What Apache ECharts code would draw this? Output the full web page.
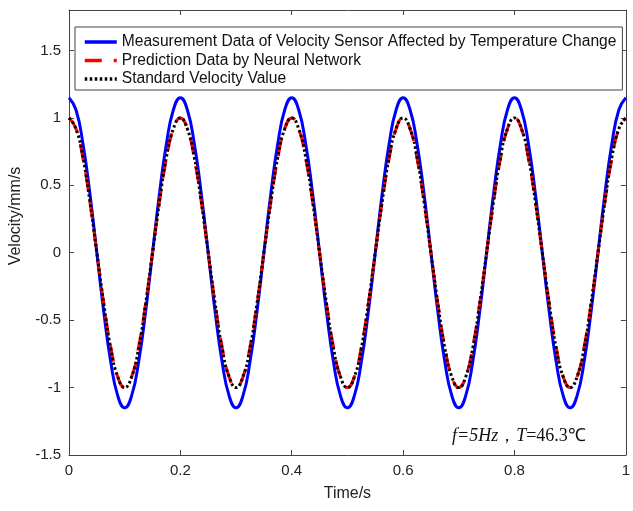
<!DOCTYPE html>
<html><head><meta charset="utf-8">
<script src="https://cdn.jsdelivr.net/npm/echarts@6/dist/echarts.min.js"></script>
<style>html,body{margin:0;padding:0;background:#fff}#c{width:633px;height:511px}</style>
</head><body><div id="c"></div>
<script>
// Sample times (s)
const time = [0,0.0125,0.025,0.0375,0.05,0.0625,0.075,0.0875,0.1,0.1125,0.125,0.1375,0.15,0.1625,0.175,0.1875,
0.2,0.2125,0.225,0.2375,0.25,0.2625,0.275,0.2875,0.3,0.3125,0.325,0.3375,0.35,0.3625,0.375,0.3875,
0.4,0.4125,0.425,0.4375,0.45,0.4625,0.475,0.4875,0.5,0.5125,0.525,0.5375,0.55,0.5625,0.575,0.5875,
0.6,0.6125,0.625,0.6375,0.65,0.6625,0.675,0.6875,0.7,0.7125,0.725,0.7375,0.75,0.7625,0.775,0.7875,
0.8,0.8125,0.825,0.8375,0.85,0.8625,0.875,0.8875,0.9,0.9125,0.925,0.9375,0.95,0.9625,0.975,0.9875,1];
// Measurement data (blue)
const measured = [1.15,1.06,0.81,0.44,0,-0.44,-0.81,-1.06,-1.15,-1.06,-0.81,-0.44,0,0.44,0.81,1.06,
1.15,1.06,0.81,0.44,0,-0.44,-0.81,-1.06,-1.15,-1.06,-0.81,-0.44,0,0.44,0.81,1.06,
1.15,1.06,0.81,0.44,0,-0.44,-0.81,-1.06,-1.15,-1.06,-0.81,-0.44,0,0.44,0.81,1.06,
1.15,1.06,0.81,0.44,0,-0.44,-0.81,-1.06,-1.15,-1.06,-0.81,-0.44,0,0.44,0.81,1.06,
1.15,1.06,0.81,0.44,0,-0.44,-0.81,-1.06,-1.15,-1.06,-0.81,-0.44,0,0.44,0.81,1.06,1.15];
// Neural network prediction (red dashed)
const predicted = [1.0,0.92,0.7,0.38,0,-0.38,-0.7,-0.92,-1.0,-0.92,-0.7,-0.38,0,0.38,0.7,0.92,
1.0,0.92,0.7,0.38,0,-0.38,-0.7,-0.92,-1.0,-0.92,-0.7,-0.38,0,0.38,0.7,0.92,
1.0,0.92,0.7,0.38,0,-0.38,-0.7,-0.92,-1.0,-0.92,-0.7,-0.38,0,0.38,0.7,0.92,
1.0,0.92,0.7,0.38,0,-0.38,-0.7,-0.92,-1.0,-0.92,-0.7,-0.38,0,0.38,0.7,0.92,
1.0,0.92,0.7,0.38,0,-0.38,-0.7,-0.92,-1.0,-0.92,-0.7,-0.38,0,0.38,0.7,0.92,1.0];
// Standard velocity (black dotted)
const standard = [1,0.92,0.71,0.38,0,-0.38,-0.71,-0.92,-1,-0.92,-0.71,-0.38,0,0.38,0.71,0.92,
1,0.92,0.71,0.38,0,-0.38,-0.71,-0.92,-1,-0.92,-0.71,-0.38,0,0.38,0.71,0.92,
1,0.92,0.71,0.38,0,-0.38,-0.71,-0.92,-1,-0.92,-0.71,-0.38,0,0.38,0.71,0.92,
1,0.92,0.71,0.38,0,-0.38,-0.71,-0.92,-1,-0.92,-0.71,-0.38,0,0.38,0.71,0.92,
1,0.92,0.71,0.38,0,-0.38,-0.71,-0.92,-1,-0.92,-0.71,-0.38,0,0.38,0.71,0.92,1];
const seriesNames = ['Measurement Data of Velocity Sensor Affected by Temperature Change','Prediction Data by Neural Network','Standard Velocity Value'];
const yTicks = [-1.5,-1,-0.5,0,0.5,1,1.5];

const zip = a => time.map((t,i)=>[t,a[i]]);
const FONT = 'Liberation Sans';
const axisCommon = {
  axisLine:{show:true,onZero:false,lineStyle:{color:'#444',width:1}},
  axisTick:{show:true,inside:true,length:5,lineStyle:{color:'#444'}},
  splitLine:{show:false}
};
const chart = echarts.init(document.getElementById('c'));
chart.setOption({
  animation:false,
  backgroundColor:'#fff',
  grid:{left:69,right:2,top:10,bottom:56},
  xAxis:[
    Object.assign({type:'value',min:0,max:1,interval:0.2,position:'bottom',
      name:'Time/s',nameLocation:'middle',nameGap:31,
      nameTextStyle:{fontFamily:FONT,fontSize:16,color:'#222'},
      axisLabel:{fontFamily:FONT,fontSize:15,color:'#222',margin:8,formatter:v=>String(v)}},axisCommon),
    Object.assign({type:'value',min:0,max:1,interval:0.2,position:'top',axisLabel:{show:false}},axisCommon)
  ],
  yAxis:[
    Object.assign({type:'value',min:-1.5,max:1.8,interval:0.5,position:'left',
      axisLabel:{fontFamily:FONT,fontSize:15,color:'#222',margin:8,
        formatter:v=> yTicks.includes(v)?String(v):''}},axisCommon),
    Object.assign({type:'value',min:-1.5,max:1.8,interval:0.5,position:'right',axisLabel:{show:false}},axisCommon)
  ],
  legend:{
    orient:'vertical',left:75,top:27,
    backgroundColor:'#fff',borderColor:'#444',borderWidth:1,borderRadius:0,
    padding:[7,6,3,8],itemGap:2.5,itemWidth:32,itemHeight:14,
    itemStyle:{opacity:0},
    lineStyle:{width:3.5},
    textStyle:{fontFamily:FONT,fontSize:15.6,color:'#111',padding:[0,0,0,0]},
    data:seriesNames
  },
  series:[
    {name:seriesNames[0],type:'line',data:zip(measured),smooth:0.5,symbol:'none',
      lineStyle:{color:'#0000ff',width:3},itemStyle:{color:'#0000ff'},z:2},
    {name:seriesNames[1],type:'line',data:zip(predicted),smooth:0.5,symbol:'none',
      lineStyle:{color:'#ff0000',width:3,type:[17,12]},itemStyle:{color:'#ff0000'},z:3},
    {name:seriesNames[2],type:'line',data:zip(standard),smooth:0.5,symbol:'none',
      lineStyle:{color:'#000',width:3,type:[2.5,2.5]},itemStyle:{color:'#000'},z:4}
  ],
  graphic:[{
    type:'text',left:452,top:427,z:10,
    style:{
      text:'{i|f=5Hz}{n|，}{i|T}{n|=46.3℃}',
      rich:{
        i:{fontFamily:'Liberation Serif',fontStyle:'italic',fontSize:18,fill:'#111'},
        n:{fontFamily:'Liberation Serif',fontSize:18,fill:'#111'}
      }
    }
  },{
    type:'text',x:16,y:216,rotation:Math.PI/2,z:10,
    style:{text:'Velocity/mm/s',fontFamily:FONT,fontSize:16,fill:'#222',align:'center',verticalAlign:'middle'}
  }]
});
</script></body></html>
